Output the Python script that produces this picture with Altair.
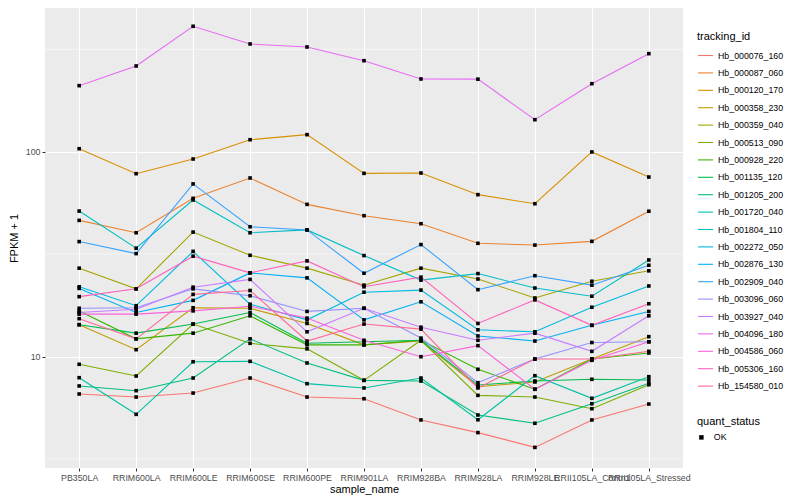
import math
import altair as alt
import pandas as pd

samples = ["PB350LA", "RRIM600LA", "RRIM600LE", "RRIM600SE", "RRIM600PE", "RRIM901LA",
           "RRIM928BA", "RRIM928LA", "RRIM928LE", "RRII105LA_Control", "RRII105LA_Stressed"]

ids = ["Hb_000076_160", "Hb_000087_060", "Hb_000120_170", "Hb_000358_230", "Hb_000359_040",
       "Hb_000513_090", "Hb_000928_220", "Hb_001135_120", "Hb_001205_200", "Hb_001720_040",
       "Hb_001804_110", "Hb_002272_050", "Hb_002876_130", "Hb_002909_040", "Hb_003096_060",
       "Hb_003927_040", "Hb_004096_180", "Hb_004586_060", "Hb_005306_160", "Hb_154580_010"]

# FPKM + 1 per sample, in sample order
hb_000076_160 = [6.56, 6.34, 6.63, 7.85, 6.34, 6.22, 4.90, 4.25, 3.60, 4.90, 5.86]
hb_000087_060 = [46.2, 40.2, 59.2, 74.4, 55.3, 48.7, 44.5, 35.7, 35.0, 36.5, 51.2]
hb_000120_170 = [103.4, 78.1, 92.1, 114.4, 121.1, 78.4, 78.7, 61.7, 55.7, 99.7, 75.2]
hb_000358_230 = [14.3, 10.8, 17.3, 17.2, 14.5, 11.4, 11.9, 7.12, 7.51, 9.72, 12.5]
hb_000359_040 = [27.0, 21.4, 40.5, 31.2, 27.0, 22.3, 27.0, 23.9, 19.3, 23.3, 26.2]
hb_000513_090 = [9.16, 8.03, 14.4, 11.6, 10.9, 7.65, 12.0, 6.46, 6.34, 5.56, 7.28]
hb_000928_220 = [16.7, 12.2, 13.0, 15.8, 11.4, 11.4, 12.0, 8.66, 6.92, 9.72, 10.4]
hb_001135_120 = [14.3, 13.0, 14.4, 16.4, 11.6, 11.8, 12.0, 7.26, 7.59, 7.74, 7.68]
hb_001205_200 = [7.18, 6.81, 7.85, 12.2, 9.30, 7.65, 7.59, 5.18, 4.72, 5.88, 7.40]
hb_001720_040 = [7.88, 5.22, 9.43, 9.47, 7.37, 7.02, 7.85, 4.91, 8.06, 6.25, 7.97]
hb_001804_110 = [51.3, 33.8, 58.1, 40.2, 41.5, 31.1, 23.6, 25.4, 21.6, 19.7, 29.6]
hb_002272_050 = [21.9, 17.7, 32.6, 18.0, 15.1, 20.6, 21.1, 13.5, 13.2, 17.4, 22.1]
hb_002876_130 = [21.5, 16.4, 18.8, 25.6, 24.2, 15.1, 18.5, 12.6, 11.9, 14.2, 16.6]
hb_002909_040 = [36.4, 31.8, 69.6, 43.0, 41.5, 25.5, 35.2, 21.2, 24.8, 22.3, 27.9]
hb_003096_060 = [17.2, 17.3, 21.4, 19.8, 16.6, 17.2, 12.3, 7.45, 9.72, 11.7, 11.8]
hb_003927_040 = [16.4, 17.0, 21.8, 23.8, 13.2, 17.2, 13.9, 12.0, 13.0, 10.6, 15.8]
hb_004096_180 = [210.1, 262.1, 409.6, 335.7, 324.5, 278.2, 226.5, 226.0, 143.3, 214.8, 301.0]
hb_004586_060 = [16.1, 16.1, 16.7, 17.6, 15.4, 12.0, 9.98, 11.3, 6.92, 9.58, 11.8]
hb_005306_160 = [19.6, 21.4, 30.9, 25.6, 29.3, 21.9, 24.4, 14.5, 18.9, 14.2, 18.1]
hb_154580_010 = [15.3, 12.2, 20.1, 21.0, 11.9, 14.4, 13.6, 7.02, 9.72, 9.72, 10.6]

series = [hb_000076_160, hb_000087_060, hb_000120_170, hb_000358_230, hb_000359_040,
          hb_000513_090, hb_000928_220, hb_001135_120, hb_001205_200, hb_001720_040,
          hb_001804_110, hb_002272_050, hb_002876_130, hb_002909_040, hb_003096_060,
          hb_003927_040, hb_004096_180, hb_004586_060, hb_005306_160, hb_154580_010]

minor_breaks = [3.162, 31.62, 316.2]
y_ticks = [10, 100]


def hcl_hex(h, c, l):
    hr = math.radians(h)
    U, V = c * math.cos(hr), c * math.sin(hr)
    Xn, Yn, Zn = 95.047, 100.0, 108.883
    Y = Yn * (((l + 16) / 116) ** 3 if l > 8 else l / 903.3)
    un = 4 * Xn / (Xn + 15 * Yn + 3 * Zn)
    vn = 9 * Yn / (Xn + 15 * Yn + 3 * Zn)
    u = U / (13 * l) + un
    v = V / (13 * l) + vn
    X = 9.0 * Y * u / (4 * v)
    Z = -X / 3 - 5 * Y + 3 * Y / v
    X, Y, Z = X / 100, Y / 100, Z / 100
    r = 3.240479 * X - 1.537150 * Y - 0.498535 * Z
    g = -0.969256 * X + 1.875992 * Y + 0.041556 * Z
    b = 0.055648 * X - 0.204043 * Y + 1.057311 * Z

    def gam(t):
        t = 12.92 * t if t <= 0.0031308 else 1.055 * t ** (1 / 2.4) - 0.055
        return max(0, min(255, round(t * 255)))
    return "#%02X%02X%02X" % (gam(r), gam(g), gam(b))


n = len(ids)
palette = [hcl_hex(15 + 360 * i / n, 100, 65) for i in range(n)]

rows = []
for tid, vals in zip(ids, series):
    for s, v in zip(samples, vals):
        rows.append({"tracking_id": tid, "sample_name": s, "fpkm": v, "quant_status": "OK"})
df = pd.DataFrame(rows)

x_enc = alt.X("sample_name:N", title="sample_name",
              scale=alt.Scale(type="point", domain=samples, padding=0.6),
              axis=alt.Axis(labelAngle=0, labelOverlap=False, labelFlush=False,
                            labelBound=False, titlePadding=2))
y_scale = alt.Scale(type="log", domain=[2.855, 503], nice=False)
y_enc = alt.Y("fpkm:Q", title="FPKM + 1", scale=y_scale,
              axis=alt.Axis(values=y_ticks, format="d", titlePadding=6))

minor = alt.Chart(pd.DataFrame({"v": minor_breaks})).mark_rule(
    color="white", strokeWidth=0.55).encode(y=alt.Y("v:Q", scale=y_scale))

lines = alt.Chart(df).mark_line(strokeWidth=1.1).encode(
    x=x_enc, y=y_enc,
    color=alt.Color("tracking_id:N", scale=alt.Scale(domain=ids, range=palette),
                    legend=alt.Legend(title="tracking_id", orient="none", legendX=652,
                                      legendY=23, symbolType="stroke", symbolSize=225,
                                      symbolStrokeWidth=1.1, rowPadding=3.4,
                                      labelOffset=4, titlePadding=5)),
)

points = alt.Chart(df).mark_point(shape="square", filled=True, color="black",
                                  size=13, opacity=1).encode(
    x=x_enc, y=y_enc,
    shape=alt.Shape("quant_status:N", scale=alt.Scale(domain=["OK"], range=["square"]),
                    legend=alt.Legend(title="quant_status", orient="none", legendX=652,
                                      legendY=408, symbolFillColor="black",
                                      symbolStrokeColor="black", symbolSize=20,
                                      labelOffset=8, titlePadding=6)),
)

chart = alt.layer(minor, lines, points).properties(
    width=638, height=460,
    padding={"left": 37, "top": 0, "right": 109, "bottom": 30},
    autosize=alt.AutoSizeParams(type="none"),
    background="white",
).configure_view(
    fill="#EBEBEB", stroke=None
).configure_axis(
    grid=True, gridColor="white", gridWidth=1.1, domain=False,
    tickColor="#333333", tickSize=3, tickWidth=1,
    labelFont="Liberation Sans", labelFontSize=8.8, labelColor="#4D4D4D", labelPadding=2,
    titleFont="Liberation Sans", titleFontSize=11, titleColor="black", titleFontWeight="normal",
).configure_legend(
    labelFont="Liberation Sans", labelFontSize=8.8, labelColor="black",
    titleFont="Liberation Sans", titleFontSize=11, titleFontWeight="normal", titleColor="black",
)

chart.save("out.html", embed_options={"renderer": "svg", "actions": False})
